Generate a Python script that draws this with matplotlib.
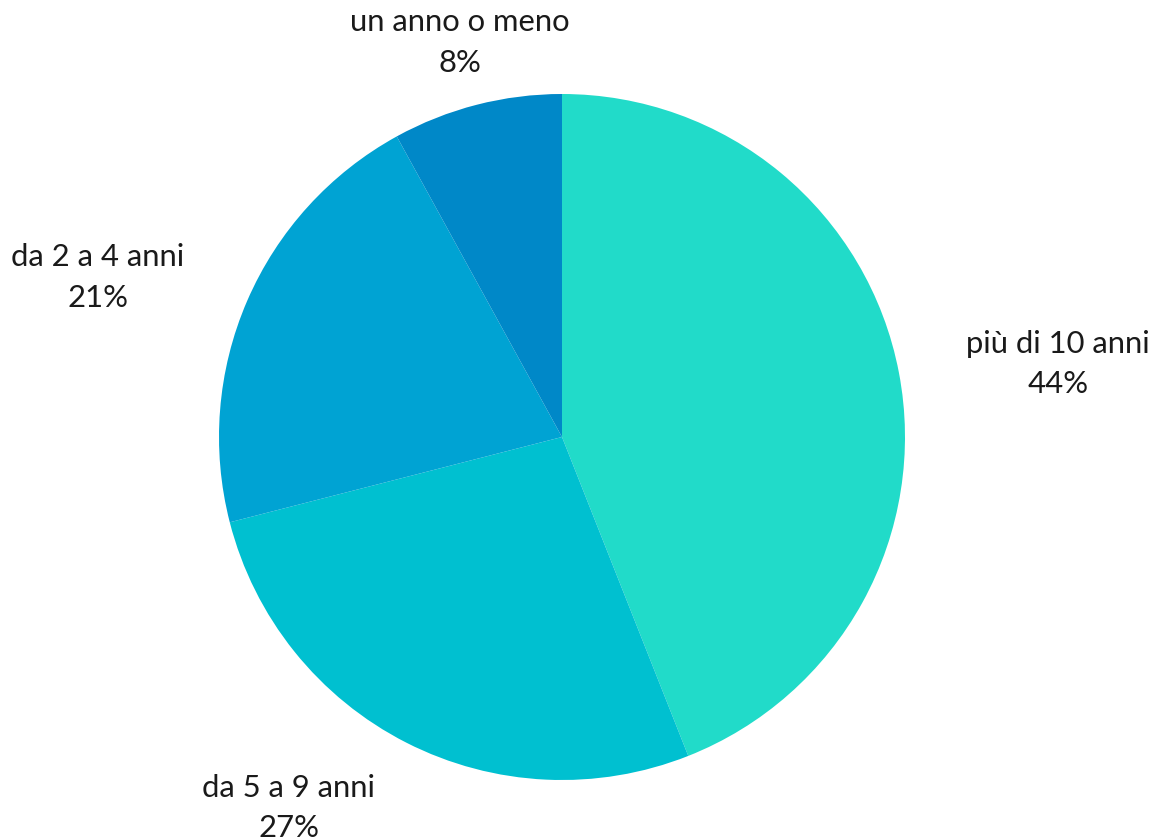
import numpy as np
import matplotlib.pyplot as plt

plt.rcParams['font.family'] = ['Lato', 'DejaVu Sans']

categories = ["più di 10 anni", "da 5 a 9 anni", "da 2 a 4 anni", "un anno o meno"]
values = [44, 27, 21, 8]
colors = ["#21dbc9", "#00c0d0", "#00a3d3", "#0088c8"]

fig = plt.figure(figsize=(11.70, 8.38), dpi=100)
ax = fig.add_axes([0, 0, 1, 1])

wedges, _ = ax.pie(values, colors=colors, startangle=90, counterclock=False,
                   wedgeprops=dict(linewidth=0))

# label placement: anchor on the mid-angle ray, aligned away from the pie
for w, name, v in zip(wedges, categories, values):
    mid = np.deg2rad((w.theta1 + w.theta2) / 2)
    x, y = 1.20 * np.cos(mid), 1.20 * np.sin(mid) - 0.012
    if abs(np.cos(mid)) < 0.3:
        ha = "center"
    elif x > 0:
        ha = "left"
    else:
        ha = "right"
    ax.text(x, y, f"{name}\n{v}%", ha=ha, va="center", multialignment="center",
            fontsize=22.3, color="#1a1a1a", linespacing=1.55)

ax.set_xlim(-562 / 343, (1170 - 562) / 343)
ax.set_ylim(-(838 - 437) / 343, 437 / 343)
ax.set_aspect("auto")
ax.axis("off")

fig.savefig("out.png", dpi=100)
